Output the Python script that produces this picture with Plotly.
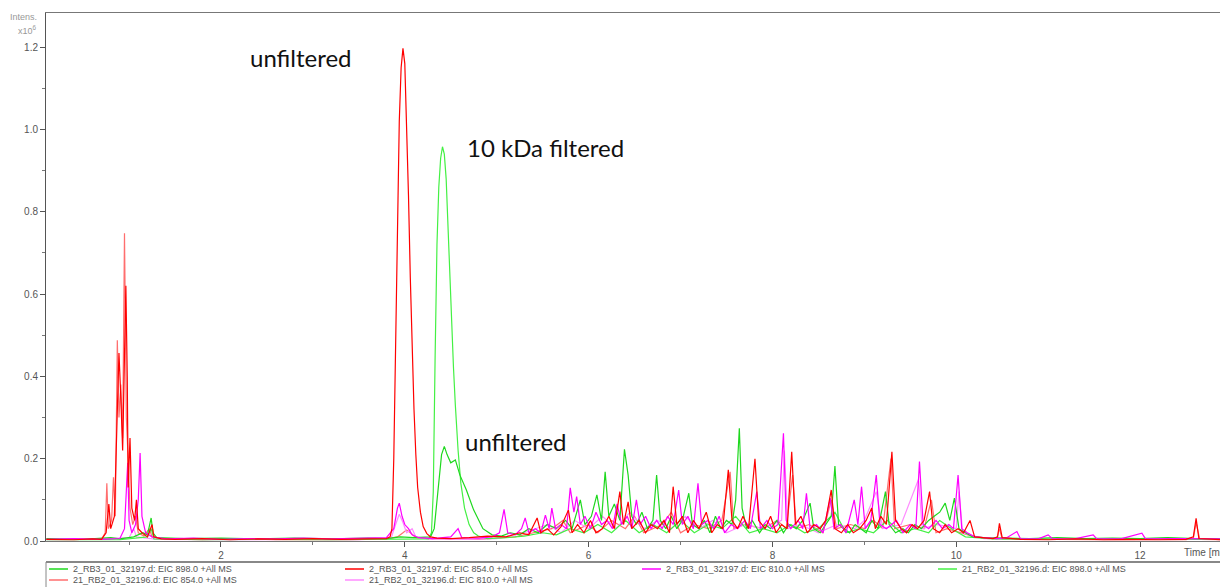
import plotly.graph_objects as go

# Extracted ion chromatograms, (retention time [min], intensity [x10^6]) pairs
eic_rb3_898 = [
    (0.10, 0.006), (0.50, 0.004), (0.80, 0.008), (0.90, 0.005), (1.05, 0.010), (1.15, 0.020),
    (1.20, 0.015), (1.24, 0.056), (1.26, 0.020), (1.30, 0.008), (1.60, 0.006), (2.00, 0.007),
    (2.40, 0.005), (2.80, 0.007), (3.20, 0.005), (3.60, 0.007), (3.80, 0.006), (3.95, 0.010),
    (4.10, 0.008), (4.28, 0.010), (4.32, 0.030), (4.36, 0.120), (4.40, 0.210), (4.43, 0.230),
    (4.46, 0.210), (4.50, 0.190), (4.55, 0.197), (4.60, 0.160), (4.67, 0.124), (4.75, 0.075),
    (4.85, 0.030), (4.95, 0.015), (5.05, 0.012), (5.15, 0.020), (5.25, 0.015), (5.35, 0.030),
    (5.45, 0.020), (5.55, 0.040), (5.65, 0.030), (5.75, 0.050), (5.82, 0.030), (5.91, 0.100),
    (5.96, 0.040), (6.03, 0.060), (6.09, 0.112), (6.14, 0.050), (6.18, 0.168), (6.22, 0.060),
    (6.28, 0.090), (6.34, 0.050), (6.39, 0.223), (6.43, 0.160), (6.47, 0.060), (6.52, 0.040),
    (6.58, 0.070), (6.64, 0.030), (6.70, 0.050), (6.74, 0.160), (6.78, 0.050), (6.84, 0.030),
    (6.90, 0.060), (6.96, 0.030), (7.02, 0.050), (7.09, 0.116), (7.13, 0.040), (7.20, 0.030),
    (7.26, 0.050), (7.32, 0.020), (7.38, 0.060), (7.44, 0.030), (7.50, 0.050), (7.56, 0.040),
    (7.60, 0.100), (7.64, 0.274), (7.67, 0.080), (7.72, 0.030), (7.78, 0.050), (7.86, 0.020),
    (7.92, 0.040), (7.98, 0.030), (8.05, 0.050), (8.12, 0.020), (8.18, 0.040), (8.26, 0.030),
    (8.33, 0.050), (8.41, 0.092), (8.45, 0.030), (8.52, 0.020), (8.58, 0.040), (8.64, 0.060),
    (8.68, 0.182), (8.72, 0.040), (8.78, 0.030), (8.84, 0.020), (8.90, 0.040), (8.96, 0.030),
    (9.02, 0.020), (9.08, 0.050), (9.15, 0.030), (9.23, 0.120), (9.27, 0.040), (9.34, 0.020),
    (9.42, 0.030), (9.48, 0.020), (9.55, 0.040), (9.62, 0.030), (9.70, 0.050), (9.76, 0.060),
    (9.82, 0.070), (9.88, 0.092), (9.93, 0.050), (9.98, 0.104), (10.03, 0.030), (10.10, 0.020),
    (10.18, 0.010), (10.30, 0.008), (10.50, 0.007), (10.80, 0.006), (11.10, 0.008), (11.40, 0.006),
    (11.70, 0.007), (12.00, 0.006), (12.30, 0.008), (12.60, 0.006), (12.90, 0.006),
]

eic_rb3_854 = [
    (0.10, 0.004), (0.40, 0.003), (0.60, 0.005), (0.70, 0.004), (0.75, 0.020), (0.78, 0.090),
    (0.80, 0.030), (0.84, 0.060), (0.87, 0.300), (0.89, 0.457), (0.91, 0.350), (0.93, 0.220),
    (0.95, 0.450), (0.965, 0.620), (0.98, 0.400), (0.99, 0.130), (1.01, 0.250), (1.03, 0.080),
    (1.06, 0.050), (1.08, 0.100), (1.10, 0.030), (1.14, 0.020), (1.20, 0.010), (1.25, 0.040),
    (1.27, 0.010), (1.35, 0.005), (1.50, 0.004), (1.80, 0.006), (2.10, 0.003), (2.40, 0.005),
    (2.70, 0.004), (3.00, 0.006), (3.30, 0.004), (3.60, 0.005), (3.80, 0.006), (3.84, 0.010),
    (3.86, 0.030), (3.88, 0.200), (3.90, 0.500), (3.92, 0.800), (3.94, 1.020), (3.96, 1.150),
    (3.98, 1.197), (4.00, 1.160), (4.02, 1.020), (4.04, 0.840), (4.06, 0.640), (4.08, 0.460),
    (4.10, 0.320), (4.12, 0.210), (4.14, 0.130), (4.17, 0.070), (4.20, 0.035), (4.24, 0.018),
    (4.28, 0.010), (4.35, 0.007), (4.50, 0.006), (4.70, 0.008), (4.90, 0.012), (5.10, 0.010),
    (5.25, 0.020), (5.35, 0.015), (5.44, 0.056), (5.48, 0.020), (5.55, 0.030), (5.62, 0.015),
    (5.70, 0.035), (5.78, 0.075), (5.82, 0.020), (5.88, 0.040), (5.95, 0.020), (6.02, 0.050),
    (6.08, 0.020), (6.15, 0.030), (6.22, 0.060), (6.28, 0.030), (6.34, 0.120), (6.38, 0.040),
    (6.43, 0.095), (6.47, 0.030), (6.55, 0.050), (6.62, 0.020), (6.68, 0.040), (6.75, 0.030),
    (6.82, 0.050), (6.88, 0.020), (6.92, 0.132), (6.96, 0.040), (7.02, 0.060), (7.08, 0.020),
    (7.14, 0.050), (7.20, 0.030), (7.28, 0.070), (7.34, 0.020), (7.40, 0.040), (7.46, 0.030),
    (7.52, 0.173), (7.56, 0.050), (7.62, 0.030), (7.68, 0.060), (7.74, 0.030), (7.81, 0.200),
    (7.85, 0.050), (7.92, 0.030), (7.98, 0.060), (8.04, 0.020), (8.10, 0.040), (8.16, 0.030),
    (8.21, 0.217), (8.25, 0.040), (8.31, 0.060), (8.38, 0.020), (8.45, 0.040), (8.52, 0.030),
    (8.58, 0.050), (8.64, 0.124), (8.68, 0.030), (8.75, 0.020), (8.82, 0.040), (8.88, 0.020),
    (8.95, 0.030), (9.02, 0.050), (9.08, 0.080), (9.12, 0.030), (9.18, 0.060), (9.24, 0.040),
    (9.30, 0.217), (9.34, 0.050), (9.40, 0.030), (9.46, 0.020), (9.52, 0.040), (9.58, 0.030),
    (9.65, 0.050), (9.71, 0.120), (9.75, 0.030), (9.82, 0.020), (9.88, 0.040), (9.95, 0.020),
    (10.02, 0.030), (10.08, 0.020), (10.15, 0.050), (10.20, 0.010), (10.30, 0.008), (10.40, 0.006),
    (10.45, 0.010), (10.47, 0.043), (10.50, 0.008), (10.70, 0.004), (11.00, 0.003), (11.30, 0.005),
    (11.60, 0.003), (11.90, 0.004), (12.20, 0.003), (12.50, 0.004), (12.58, 0.010), (12.61, 0.055),
    (12.64, 0.006), (12.90, 0.003),
]

eic_rb3_810 = [
    (0.10, 0.004), (0.40, 0.006), (0.70, 0.004), (0.90, 0.006), (0.95, 0.030), (0.985, 0.190),
    (1.00, 0.050), (1.03, 0.020), (1.07, 0.040), (1.10, 0.100), (1.12, 0.214), (1.14, 0.060),
    (1.18, 0.020), (1.25, 0.010), (1.40, 0.005), (1.70, 0.007), (2.00, 0.004), (2.30, 0.006),
    (2.60, 0.005), (2.90, 0.007), (3.20, 0.005), (3.50, 0.006), (3.80, 0.008), (3.88, 0.030),
    (3.92, 0.080), (3.94, 0.092), (3.97, 0.060), (4.00, 0.040), (4.04, 0.030), (4.08, 0.015),
    (4.15, 0.008), (4.30, 0.006), (4.50, 0.010), (4.58, 0.030), (4.62, 0.008), (4.80, 0.007),
    (4.95, 0.010), (5.03, 0.020), (5.08, 0.077), (5.12, 0.020), (5.20, 0.015), (5.27, 0.030),
    (5.31, 0.056), (5.35, 0.020), (5.42, 0.030), (5.48, 0.020), (5.53, 0.063), (5.57, 0.030),
    (5.60, 0.080), (5.64, 0.030), (5.70, 0.040), (5.76, 0.030), (5.80, 0.129), (5.84, 0.070),
    (5.87, 0.108), (5.91, 0.040), (5.96, 0.060), (6.02, 0.030), (6.08, 0.070), (6.14, 0.040),
    (6.20, 0.050), (6.26, 0.030), (6.31, 0.090), (6.36, 0.040), (6.42, 0.060), (6.47, 0.030),
    (6.52, 0.100), (6.56, 0.040), (6.62, 0.060), (6.68, 0.030), (6.74, 0.050), (6.80, 0.030),
    (6.86, 0.060), (6.92, 0.040), (6.98, 0.124), (7.02, 0.040), (7.08, 0.060), (7.14, 0.030),
    (7.19, 0.140), (7.23, 0.040), (7.30, 0.050), (7.36, 0.030), (7.42, 0.060), (7.48, 0.020),
    (7.55, 0.040), (7.62, 0.030), (7.70, 0.050), (7.76, 0.030), (7.83, 0.120), (7.87, 0.030),
    (7.94, 0.050), (8.00, 0.030), (8.06, 0.040), (8.12, 0.262), (8.15, 0.050), (8.20, 0.030),
    (8.28, 0.050), (8.33, 0.030), (8.37, 0.116), (8.41, 0.030), (8.48, 0.040), (8.55, 0.020),
    (8.63, 0.104), (8.67, 0.030), (8.74, 0.040), (8.80, 0.020), (8.89, 0.100), (8.93, 0.040),
    (8.97, 0.132), (9.01, 0.030), (9.07, 0.050), (9.13, 0.160), (9.17, 0.040), (9.24, 0.030),
    (9.35, 0.050), (9.42, 0.020), (9.50, 0.040), (9.56, 0.030), (9.60, 0.193), (9.64, 0.040),
    (9.70, 0.030), (9.78, 0.050), (9.85, 0.030), (9.92, 0.040), (9.97, 0.030), (10.02, 0.160),
    (10.06, 0.030), (10.12, 0.020), (10.20, 0.010), (10.30, 0.008), (10.45, 0.006), (10.55, 0.008),
    (10.66, 0.023), (10.70, 0.005), (10.90, 0.006), (11.00, 0.015), (11.05, 0.005), (11.30, 0.006),
    (11.49, 0.015), (11.53, 0.005), (11.80, 0.006), (12.02, 0.019), (12.06, 0.005), (12.40, 0.006),
    (12.90, 0.005),
]

eic_rb2_898 = [
    (0.10, 0.003), (0.50, 0.004), (0.90, 0.003), (1.20, 0.010), (1.24, 0.030), (1.27, 0.005),
    (1.80, 0.003), (2.50, 0.004), (3.20, 0.003), (3.90, 0.004), (4.10, 0.004), (4.26, 0.005),
    (4.29, 0.020), (4.31, 0.120), (4.33, 0.450), (4.35, 0.720), (4.37, 0.860), (4.39, 0.930),
    (4.41, 0.958), (4.43, 0.940), (4.45, 0.880), (4.47, 0.760), (4.49, 0.620), (4.51, 0.520),
    (4.53, 0.420), (4.55, 0.330), (4.58, 0.220), (4.61, 0.140), (4.65, 0.080), (4.70, 0.040),
    (4.75, 0.020), (4.80, 0.012), (4.90, 0.006), (5.10, 0.008), (5.30, 0.012), (5.50, 0.020),
    (5.65, 0.015), (5.80, 0.030), (5.95, 0.020), (6.10, 0.040), (6.25, 0.020), (6.40, 0.050),
    (6.55, 0.020), (6.70, 0.040), (6.85, 0.020), (7.00, 0.050), (7.15, 0.020), (7.30, 0.040),
    (7.45, 0.030), (7.60, 0.060), (7.75, 0.020), (7.90, 0.030), (8.05, 0.020), (8.20, 0.040),
    (8.35, 0.020), (8.50, 0.030), (8.68, 0.070), (8.80, 0.020), (8.95, 0.030), (9.10, 0.020),
    (9.25, 0.050), (9.40, 0.020), (9.55, 0.030), (9.70, 0.020), (9.82, 0.050), (9.95, 0.030),
    (10.10, 0.010), (10.40, 0.005), (10.90, 0.004), (11.50, 0.005), (12.10, 0.004), (12.90, 0.004),
]

eic_rb2_854 = [
    (0.10, 0.004), (0.50, 0.003), (0.70, 0.004), (0.74, 0.020), (0.758, 0.140), (0.775, 0.030),
    (0.81, 0.050), (0.83, 0.155), (0.85, 0.060), (0.872, 0.488), (0.89, 0.300), (0.91, 0.380),
    (0.93, 0.250), (0.95, 0.748), (0.97, 0.300), (0.99, 0.200), (1.01, 0.080), (1.04, 0.040),
    (1.07, 0.060), (1.10, 0.020), (1.16, 0.012), (1.22, 0.030), (1.25, 0.010), (1.40, 0.005),
    (1.80, 0.003), (2.20, 0.005), (2.60, 0.003), (3.00, 0.004), (3.40, 0.003), (3.80, 0.005),
    (3.92, 0.010), (3.98, 0.020), (4.02, 0.027), (4.06, 0.020), (4.12, 0.008), (4.30, 0.005),
    (4.50, 0.006), (4.80, 0.004), (5.20, 0.010), (5.40, 0.020), (5.60, 0.030), (5.72, 0.050),
    (5.80, 0.020), (6.00, 0.040), (6.10, 0.020), (6.25, 0.050), (6.40, 0.030), (6.50, 0.060),
    (6.60, 0.020), (6.80, 0.040), (6.90, 0.070), (7.00, 0.020), (7.15, 0.040), (7.30, 0.030),
    (7.45, 0.050), (7.54, 0.168), (7.58, 0.030), (7.70, 0.040), (7.90, 0.030), (8.05, 0.050),
    (8.15, 0.030), (8.22, 0.160), (8.26, 0.030), (8.40, 0.040), (8.55, 0.020), (8.64, 0.100),
    (8.70, 0.030), (8.85, 0.040), (9.00, 0.030), (9.10, 0.050), (9.20, 0.030), (9.29, 0.200),
    (9.33, 0.030), (9.50, 0.040), (9.65, 0.030), (9.73, 0.100), (9.78, 0.020), (9.90, 0.030),
    (10.05, 0.020), (10.20, 0.010), (10.44, 0.005), (10.47, 0.030), (10.50, 0.005), (11.00, 0.004),
    (11.50, 0.003), (12.00, 0.004), (12.50, 0.003), (12.58, 0.006), (12.61, 0.045), (12.65, 0.004),
    (12.90, 0.003),
]

eic_rb2_810 = [
    (0.10, 0.003), (0.60, 0.004), (1.00, 0.008), (1.05, 0.030), (1.08, 0.010), (1.30, 0.004),
    (2.00, 0.003), (2.80, 0.004), (3.50, 0.003), (3.85, 0.006), (3.90, 0.040), (3.94, 0.065),
    (3.98, 0.045), (4.02, 0.020), (4.08, 0.030), (4.12, 0.010), (4.25, 0.005), (4.60, 0.004),
    (5.00, 0.006), (5.30, 0.020), (5.55, 0.040), (5.70, 0.020), (5.85, 0.050), (6.00, 0.030),
    (6.15, 0.060), (6.30, 0.030), (6.45, 0.070), (6.60, 0.030), (6.75, 0.050), (6.90, 0.030),
    (7.05, 0.060), (7.20, 0.030), (7.35, 0.050), (7.50, 0.020), (7.70, 0.040), (7.90, 0.030),
    (8.10, 0.050), (8.13, 0.220), (8.17, 0.030), (8.30, 0.040), (8.50, 0.020), (8.70, 0.040),
    (8.90, 0.030), (9.00, 0.050), (9.13, 0.120), (9.20, 0.030), (9.40, 0.040), (9.59, 0.150),
    (9.63, 0.030), (9.80, 0.040), (10.00, 0.030), (10.03, 0.120), (10.07, 0.020), (10.30, 0.006),
    (10.80, 0.004), (11.50, 0.005), (12.20, 0.004), (12.90, 0.004),
]

trace_names = [
    "2_RB3_01_32197.d: EIC 898.0 +All MS",
    "2_RB3_01_32197.d: EIC 854.0 +All MS",
    "2_RB3_01_32197.d: EIC 810.0 +All MS",
    "21_RB2_01_32196.d: EIC 898.0 +All MS",
    "21_RB2_01_32196.d: EIC 854.0 +All MS",
    "21_RB2_01_32196.d: EIC 810.0 +All MS",
]
trace_data = [eic_rb3_898, eic_rb3_854, eic_rb3_810, eic_rb2_898, eic_rb2_854, eic_rb2_810]
trace_colors = ["#1ed81e", "#ff0000", "#ff00ff", "#44f044", "#ff6e6e", "#ff8cff"]

y_ticks = [0.0, 0.2, 0.4, 0.6, 0.8, 1.0, 1.2]
y_minor = [0.1, 0.3, 0.5, 0.7, 0.9, 1.1]
x_ticks = [2, 4, 6, 8, 10, 12]
x_minor = [1, 3, 5, 7, 9, 11]

annotations_text = [("unfiltered", 2.29, 1.176), ("10 kDa filtered", 4.66, 0.955), ("unfiltered", 4.63, 0.241)]

# Figure geometry (pixels)
W, H = 1220, 587
L, R, T, B = 46, 0, 13, 46
PW, PH = W - L - R, H - T - B


def px(xp):
    return (xp - L) / PW


def py(yp):
    return (H - B - yp) / PH


fig = go.Figure()
draw_order = [4, 5, 3, 0, 2, 1]
for i in draw_order:
    pts = trace_data[i]
    fig.add_trace(go.Scatter(
        x=[p[0] for p in pts], y=[p[1] for p in pts], mode="lines",
        name=trace_names[i], line=dict(color=trace_colors[i], width=1.2),
        hoverinfo="x+y+name",
    ))

axis_font = dict(family="Liberation Sans, Arial, sans-serif", size=10, color="#555")

fig.update_xaxes(
    range=[0.096, 12.87], tickmode="array", tickvals=x_ticks, ticktext=[str(v) for v in x_ticks],
    ticks="outside", ticklen=5, tickwidth=1, tickcolor="#555", showline=True, linecolor="#777",
    linewidth=1, mirror=True, showgrid=False, zeroline=False, tickfont=axis_font,
    minor=dict(tickmode="array", tickvals=x_minor, ticks="outside", ticklen=3, tickcolor="#777"),
)
fig.update_yaxes(
    range=[0, 1.283], tickmode="array", tickvals=y_ticks, ticktext=[f"{v:.1f}" for v in y_ticks],
    ticks="outside", ticklen=5, tickwidth=1, tickcolor="#555", showline=True, linecolor="#555",
    linewidth=1, showgrid=False, zeroline=False, tickfont=axis_font,
    minor=dict(tickmode="array", tickvals=y_minor, ticks="outside", ticklen=3, tickcolor="#777"),
)

annots = []
for text, xv, yv in annotations_text:
    annots.append(dict(x=xv, y=yv, xref="x", yref="y", text=text, showarrow=False,
                       xanchor="left", yanchor="middle",
                       font=dict(family="Lato, Carlito, sans-serif", size=24, color="#111")))

# Axis captions
small_grey = dict(family="Liberation Sans, Arial, sans-serif", size=9, color="#999")
annots.append(dict(x=px(23), y=py(17), xref="paper", yref="paper", text="Intens.", showarrow=False,
                   xanchor="center", yanchor="middle", font=small_grey))
annots.append(dict(x=px(27), y=py(30), xref="paper", yref="paper", text="x10<sup>6</sup>", showarrow=False,
                   xanchor="center", yanchor="middle", font=small_grey))
annots.append(dict(x=px(1182), y=py(552), xref="paper", yref="paper", text="Time [min]", showarrow=False,
                   xanchor="left", yanchor="middle", font=axis_font))

# Legend panel below the axis
shapes = [
    dict(type="line", xref="paper", yref="paper", x0=px(46), x1=px(1220), y0=py(562), y1=py(562),
         line=dict(color="#888", width=2)),
    dict(type="line", xref="paper", yref="paper", x0=px(46), x1=px(46), y0=py(562), y1=py(600),
         line=dict(color="#888", width=1)),
]
legend_slots = [(49, 569), (345, 569), (642, 569), (938, 569), (49, 580), (345, 580)]
legend_font = dict(family="Liberation Sans, Arial, sans-serif", size=9, color="#555")
for (lx, ly), name, color in zip(legend_slots, trace_names, trace_colors):
    shapes.append(dict(type="line", xref="paper", yref="paper", x0=px(lx), x1=px(lx + 19),
                       y0=py(ly), y1=py(ly), line=dict(color=color, width=1.5)))
    annots.append(dict(x=px(lx + 22), y=py(ly), xref="paper", yref="paper", text=name,
                       showarrow=False, xanchor="left", yanchor="middle", font=legend_font))

fig.update_layout(
    width=W, height=H, margin=dict(l=L, r=R, t=T, b=B, pad=0),
    plot_bgcolor="white", paper_bgcolor="white", showlegend=False,
    annotations=annots, shapes=shapes,
)

fig.write_html("out.html")
